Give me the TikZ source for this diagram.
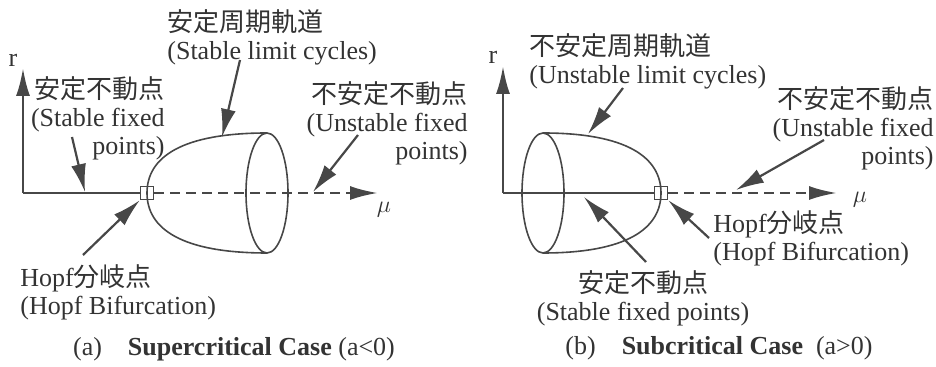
\documentclass[tikz,border=0pt]{standalone}
\usepackage{fontspec}
\setmainfont{Liberation Serif}
\newfontfamily\jp{Noto Sans CJK JP}
\usetikzlibrary{arrows.meta}
\definecolor{ink}{gray}{0.2}
\definecolor{pen}{gray}{0.28}

\begin{document}
\begin{tikzpicture}[x=0.5pt, y=-0.5pt,
  every node/.style={text=ink, inner sep=0pt, font=\fontsize{13}{14}\selectfont},
  axis/.style={draw=pen, line width=1.3pt},
  axtip/.style={-{Latex[length=14pt,width=7pt]}},
  shell/.style={draw=pen, line width=0.8pt},
  pointer/.style={draw=pen, line width=1.1pt, -{Latex[length=14pt,width=7.5pt]}},
  hopf/.style={draw=pen, line width=0.8pt, minimum size=6.5pt}]
  \useasboundingbox (0,0) rectangle (936,367);

  % (a) Supercritical
  \coordinate (oA) at (23,193);
  \coordinate (rA) at (23,68);
  \coordinate (muA) at (378,193);
  \node[hopf] (hopfA) at (147,193) {};
  \draw[shell] (hopfA.center) .. controls (147,157) and (182,133) .. (267,133);
  \draw[shell] (hopfA.center) .. controls (147,229) and (182,253) .. (267,253);
  \draw[shell] (267,193) ellipse [x radius=21, y radius=60];
  \draw[axis] (oA) -- (hopfA.west);
  \draw[axis, dash pattern=on 5pt off 3pt, axtip] (hopfA.east) -- (muA);
  \draw[axis, axtip] (oA) -- (rA);
  \node (rlabA) at (13,60) {r};
  \node (mulabA) at (384,210) {$\mu$};

  \node[anchor=north west, align=left] (slcA) at (167,9) {{\jp 安定周期軌道}\\(Stable limit cycles)};
  \node[anchor=north east, align=right] (sfpA) at (165,76) {{\jp 安定不動点}\\(Stable fixed\\points)};
  \node[anchor=north east, align=right] (ufpA) at (468,81) {{\jp 不安定不動点}\\(Unstable fixed\\points)};
  \node[anchor=north west, align=left] (hbA) at (20,264) {Hopf{\jp 分岐点}\\(Hopf Bifurcation)};

  \coordinate (slcTailA) at (240,60);
  \coordinate (slcHeadA) at (222,137);
  \coordinate (sfpTailA) at (72,137);
  \coordinate (sfpHeadA) at (85,192);
  \coordinate (ufpTailA) at (358,135);
  \coordinate (ufpHeadA) at (313,192);
  \coordinate (hbTailA) at (83,255);
  \draw[pointer] (slcTailA) -- (slcHeadA);
  \draw[pointer] (sfpTailA) -- (sfpHeadA);
  \draw[pointer] (ufpTailA) -- (ufpHeadA);
  \draw[pointer] (hbTailA) -- (hopfA.south west);

  \node (capA) at (234,349) {(a)\quad\textbf{Supercritical Case} (a<0)};

  % (b) Subcritical
  \coordinate (oB) at (503,193);
  \coordinate (rB) at (503,66);
  \coordinate (muB) at (837,193);
  \node[hopf] (hopfB) at (661,193) {};
  \draw[shell] (hopfB.center) .. controls (661,157) and (626,133) .. (543,133);
  \draw[shell] (hopfB.center) .. controls (661,229) and (626,253) .. (543,253);
  \draw[shell] (543,193) ellipse [x radius=21, y radius=60];
  \draw[axis] (oB) -- (hopfB.west);
  \draw[axis, dash pattern=on 5pt off 3pt, axtip] (hopfB.east) -- (muB);
  \draw[axis, axtip] (oB) -- (rB);
  \node (rlabB) at (493,57) {r};
  \node (mulabB) at (860,200) {$\mu$};

  \node[anchor=north west, align=left] (ulcB) at (529,33) {{\jp 不安定周期軌道}\\(Unstable limit cycles)};
  \node[anchor=north east, align=right] (ufpB) at (934,86) {{\jp 不安定不動点}\\(Unstable fixed\\points)};
  \node[anchor=north west, align=left] (hbB) at (713,210) {Hopf{\jp 分岐点}\\(Hopf Bifurcation)};
  \node[anchor=north, align=center] (sfpB) at (643,270) {{\jp 安定不動点}\\(Stable fixed points)};

  \coordinate (ulcTailB) at (623,88);
  \coordinate (ulcHeadB) at (588,134);
  \coordinate (ufpTailB) at (824,140);
  \coordinate (ufpHeadB) at (736,190);
  \coordinate (sfpTailB) at (646,262);
  \coordinate (sfpHeadB) at (584,197);
  \coordinate (hbTailB) at (709,238);
  \draw[pointer] (ulcTailB) -- (ulcHeadB);
  \draw[pointer] (ufpTailB) -- (ufpHeadB);
  \draw[pointer] (sfpTailB) -- (sfpHeadB);
  \draw[pointer] (hbTailB) -- (hopfB.south east);

  \node (capB) at (719,348) {(b)\quad\textbf{Subcritical Case}\enspace(a>0)};
\end{tikzpicture}
\end{document}
